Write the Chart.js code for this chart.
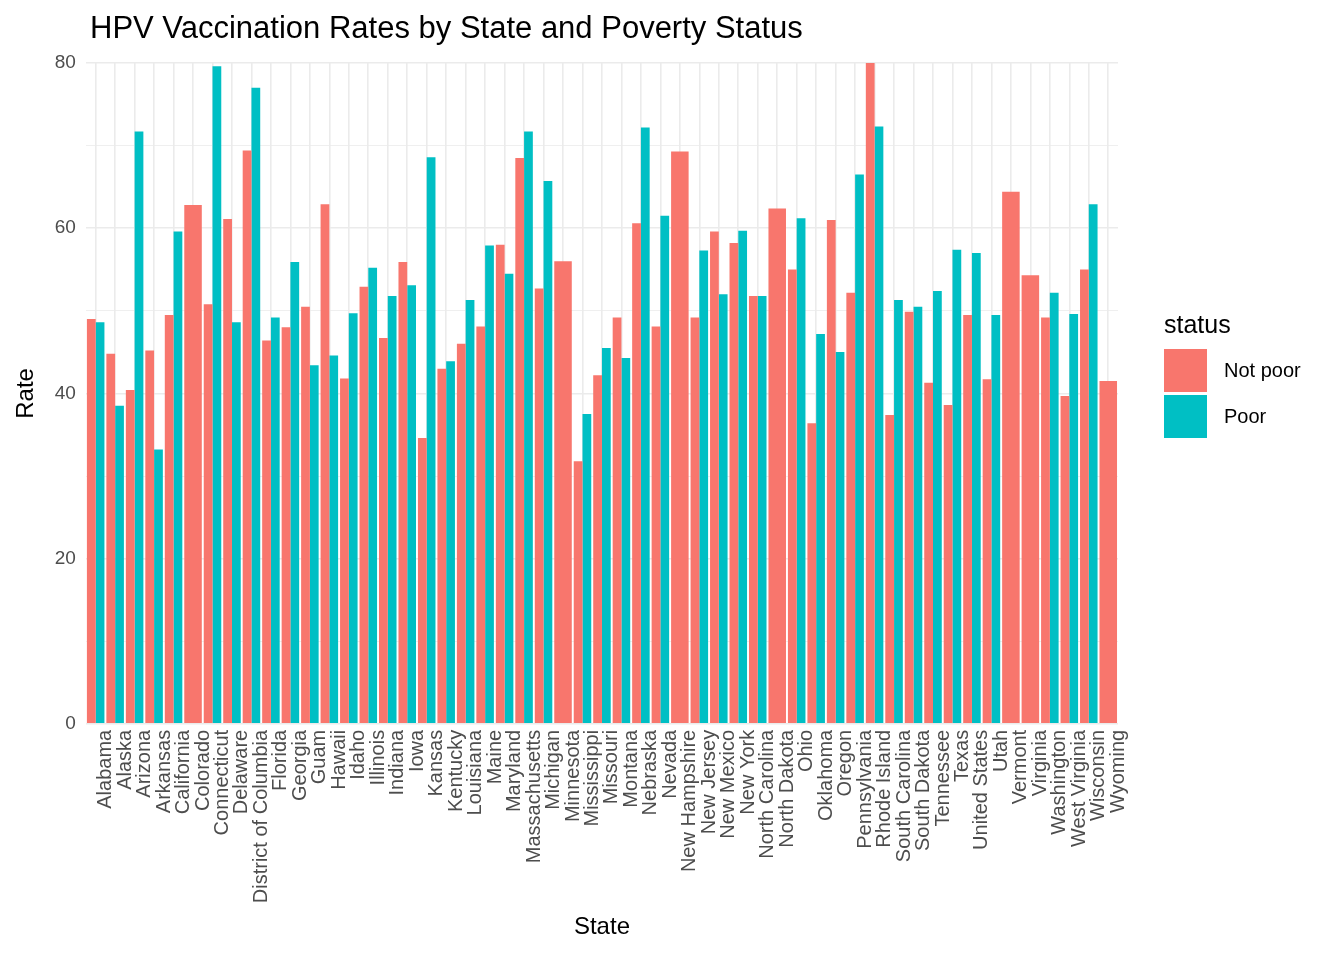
<!DOCTYPE html>
<html><head><meta charset="utf-8">
<script src="https://cdn.jsdelivr.net/npm/chart.js@4/dist/chart.umd.min.js"></script>
<style>
body{margin:0;background:#fff;font-family:"Liberation Sans",Arial,sans-serif;}
#wrap{position:relative;width:1344px;height:960px;}
#title{position:absolute;left:90px;top:10px;font-size:31px;color:#000;}
#legend{position:absolute;left:1164px;top:310px;font-size:21px;color:#000;}
.item{display:flex;align-items:center;height:46px;font-size:20px;}
.sw{width:43px;height:43px;margin-right:17px;}
</style></head><body>
<div id="wrap">
<canvas id="c" width="1344" height="960"></canvas>
<div id="title">HPV Vaccination Rates by State and Poverty Status</div>
<div id="legend"><div style="font-size:25px;margin-bottom:8px">status</div>
<div class="item"><div class="sw" style="background:#F8766D"></div>Not poor</div>
<div class="item"><div class="sw" style="background:#00BFC4"></div>Poor</div></div>
</div>
<script>
const states=["Alabama","Alaska","Arizona","Arkansas","California","Colorado","Connecticut","Delaware","District of Columbia","Florida","Georgia","Guam","Hawaii","Idaho","Illinois","Indiana","Iowa","Kansas","Kentucky","Louisiana","Maine","Maryland","Massachusetts","Michigan","Minnesota","Mississippi","Missouri","Montana","Nebraska","Nevada","New Hampshire","New Jersey","New Mexico","New York","North Carolina","North Dakota","Ohio","Oklahoma","Oregon","Pennsylvania","Rhode Island","South Carolina","South Dakota","Tennessee","Texas","United States","Utah","Vermont","Virginia","Washington","West Virginia","Wisconsin","Wyoming"];
const notPoor=[49.0,44.8,40.4,45.2,49.5,62.8,50.8,61.1,69.4,46.4,48.0,50.5,62.9,41.8,52.9,46.7,55.9,34.6,43.0,46.0,48.1,58.0,68.5,52.7,56.0,31.8,42.2,49.2,60.6,48.1,69.3,49.2,59.6,58.2,51.8,62.4,55.0,36.4,61.0,52.2,80.0,37.4,49.9,41.3,38.6,49.5,41.7,64.4,54.3,49.2,39.7,55.0,41.5];
const poor=[48.6,38.5,71.7,33.2,59.6,null,79.6,48.6,77.0,49.2,55.9,43.4,44.6,49.7,55.2,51.8,53.1,68.6,43.9,51.3,57.9,54.5,71.7,65.7,null,37.5,45.5,44.3,72.2,61.5,null,57.3,52.0,59.7,51.8,null,61.2,47.2,45.0,66.5,72.3,51.3,50.5,52.4,57.4,57.0,49.5,null,null,52.2,49.6,62.9,null];
const yTicks=[0,20,40,60,80];
new Chart(document.getElementById('c'),{type:'bar',
data:{labels:states,datasets:[
{label:'Not poor',data:notPoor,backgroundColor:'#F8766D',categoryPercentage:0.9,barPercentage:1},
{label:'Poor',data:poor,backgroundColor:'#00BFC4',categoryPercentage:0.9,barPercentage:1}]},
options:{responsive:false,animation:false,skipNull:true,
layout:{padding:{top:63,right:226,bottom:14,left:8}},
plugins:{legend:{display:false},tooltip:{enabled:false}},
scales:{
x:{grid:{color:'#ebebeb',lineWidth:1.6,offset:false,drawTicks:false},border:{display:false},
 ticks:{maxRotation:90,minRotation:90,autoSkip:false,labelOffset:10,padding:6,crossAlign:'center',color:'#4d4d4d',font:{size:20,family:'Liberation Sans'}},
 title:{display:true,text:'State',color:'#000',font:{size:24,family:'Liberation Sans'},padding:{top:4}}},
y:{min:0,max:80,grid:{color:'#ebebeb',lineWidth:c=>(c.tick&&c.tick.value%20===0)?1.6:0.8,drawTicks:false},border:{display:false},
 ticks:{stepSize:10,padding:10,color:'#4d4d4d',font:{size:19,family:'Liberation Sans'},callback:v=>yTicks.includes(v)?v:''},
 title:{display:true,text:'Rate',color:'#000',font:{size:24,family:'Liberation Sans'}}}}}});
</script></body></html>
